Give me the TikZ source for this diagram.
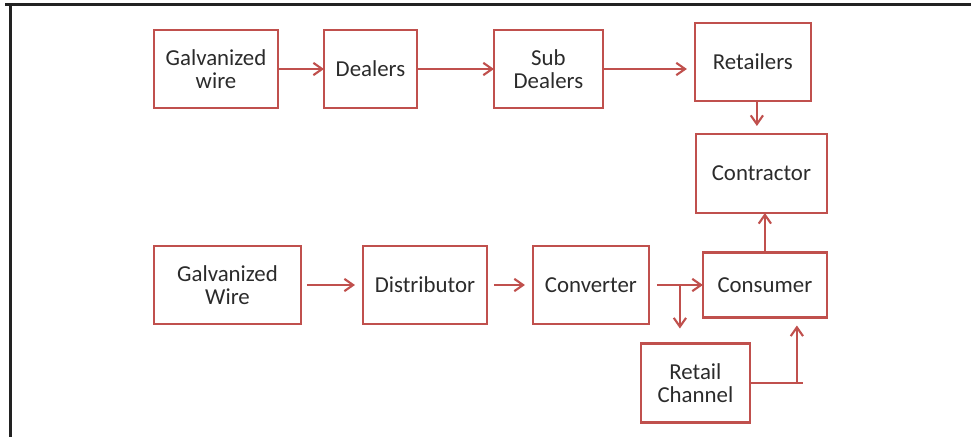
\documentclass[tikz,border=0pt]{standalone}
\usepackage{fontspec}
\setmainfont{Carlito}
\usepackage{tikz}
\usetikzlibrary{arrows.meta}
\usetikzlibrary{calc,positioning}
\definecolor{chanred}{HTML}{C0504D}
\definecolor{chantext}{HTML}{2B2B2B}
\definecolor{framegray}{HTML}{222222}

\begin{document}
\begin{tikzpicture}[x=0.02cm,y=-0.02cm,
  chanbox/.style={draw=chanred,line width=1.3pt,inner sep=0,outer sep=0,align=center,
    text=chantext,font=\fontsize{13}{13}\selectfont,minimum height=1.56cm},
  flow/.style={chanred,line width=1.2pt,-{Straight Barb[length=5pt,width=7pt]}},
  wire/.style={chanred,line width=1.2pt}]
\useasboundingbox (0,0) rectangle (971,437);
\draw[framegray,line width=1.4pt] (5,4.5) -- (971,4.5);
\draw[framegray,line width=1.4pt] (10.5,4.5) -- (10.5,437);
%%%%%%%%%%%%%%%%%%%%%%%%%%%%
%%%%%%%%% Top row %%%%%%%%%%
%%%%%%%%%%%%%%%%%%%%%%%%%%%%
\node[chanbox, minimum width=2.48cm] (galvtop) at (216,69) {Galvanized\\wire};
\node[chanbox, right=0.92cm of galvtop, minimum width=1.86cm] (dealers) {Dealers};
\node[chanbox, right=1.54cm of dealers, minimum width=2.18cm] (subdealers) {Sub\\Dealers};
\node[chanbox, right=1.84cm of subdealers, yshift=0.14cm, minimum width=2.32cm] (retailers) {Retailers};
\node[chanbox, below=0.66cm of retailers, xshift=0.17cm, minimum width=2.62cm, minimum height=1.58cm] (contractor) {Contractor};
\draw[flow] (galvtop.east) -- (dealers.west);
\draw[flow] (dealers.east) -- (subdealers.west);
\draw[flow,shorten >=0.16cm] (subdealers.east) -- (subdealers.east -| retailers.west);
\draw[flow,shorten >=0.16cm] ([xshift=0.08cm]retailers.south) -- ([xshift=0.08cm]retailers.south |- contractor.north);
%%%%%%%%%%%%%%%%%%%%%%%%%%%%
%%%%%%%%% Bottom row %%%%%%%
%%%%%%%%%%%%%%%%%%%%%%%%%%%%
\node[chanbox, minimum width=2.94cm] (galvbot) at (227.5,285) {Galvanized\\Wire};
\node[chanbox, right=1.24cm of galvbot, minimum width=2.48cm] (distributor) {Distributor};
\node[chanbox, right=0.92cm of distributor, minimum width=2.32cm] (converter) {Converter};
\node[chanbox, right=1.08cm of converter, minimum width=2.48cm, minimum height=1.30cm] (consumer) {Consumer};
\node[chanbox, below=0.52cm of consumer, xshift=-1.39cm, minimum width=2.18cm, minimum height=1.58cm] (retail) {Retail\\Channel};
\coordinate (split) at ([xshift=0.62cm]converter.east);
\coordinate (tee) at ([xshift=0.94cm]retail.east);
\coordinate (teeend) at ([xshift=1.06cm]retail.east);
\draw[flow,shorten <=0.12cm,shorten >=0.16cm] (galvbot.east) -- (distributor.west);
\draw[flow,shorten <=0.14cm,shorten >=0.16cm] (distributor.east) -- (converter.west);
\draw[flow,shorten <=0.16cm] (converter.east) -- (consumer.west);
\draw[flow,shorten >=0.3cm] (split) -- (split |- retail.north);
\draw[flow] (consumer.north) -- (consumer.north |- contractor.south);
\draw[wire] (retail.east) -- (teeend);
\draw[flow,shorten >=0.16cm] (tee) -- (tee |- consumer.south);
\end{tikzpicture}
\end{document}
